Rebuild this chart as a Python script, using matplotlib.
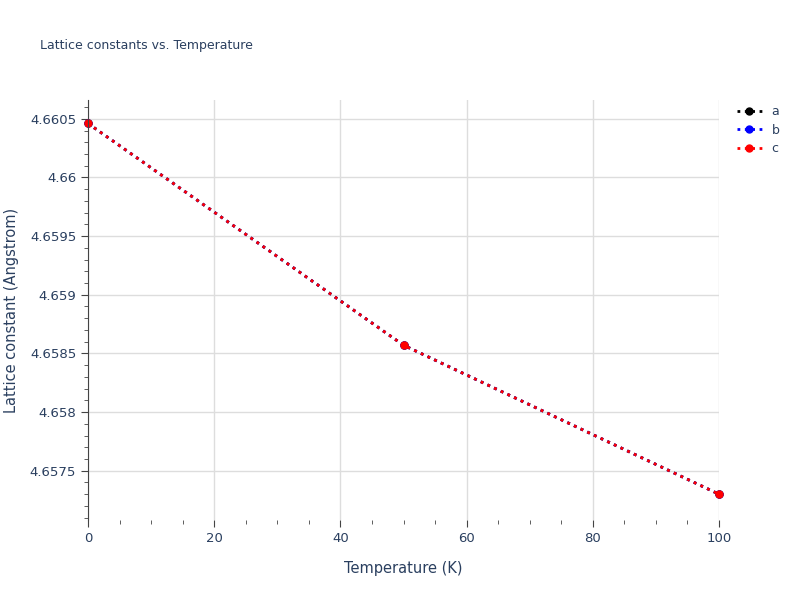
import matplotlib
matplotlib.use("Agg")
import matplotlib.pyplot as plt
from matplotlib.ticker import MultipleLocator, FuncFormatter

temps = [0, 50, 100]
a = [4.66046, 4.65857, 4.65730]
b = [4.66046, 4.65857, 4.65730]
c = [4.66046, 4.65857, 4.65730]
series = [("a", a, "black"), ("b", b, "blue"), ("c", c, "red")]

fig = plt.figure(figsize=(8, 6), dpi=100)
ax = fig.add_axes([88 / 800, 1 - 520 / 600, (719 - 88) / 800, 420 / 600])
for name, vals, col in series:
    ax.plot(temps, vals, linestyle=":", linewidth=2, color=col, marker="o",
            markersize=5, label=name, clip_on=False)

ax.set_xlim(0, 100)
ax.set_ylim(4.65708, 4.66066)
ax.xaxis.set_major_locator(MultipleLocator(20))
ax.xaxis.set_minor_locator(MultipleLocator(5))
ax.yaxis.set_major_locator(MultipleLocator(0.0005))
ax.yaxis.set_minor_locator(MultipleLocator(0.0001))
ax.yaxis.set_major_formatter(FuncFormatter(lambda v, p: f"{v:.4f}".rstrip("0").rstrip(".")))
ax.grid(True, which="major", color="#dddddd", linewidth=1)
for s in ["top", "right"]:
    ax.spines[s].set_visible(False)
ax.spines["bottom"].set_visible(False)
ax.spines["left"].set_color("#444444")
tc = "#2a3f5f"
ax.tick_params(axis="both", which="major", colors="#444444", labelcolor=tc, labelsize=9.5, length=5)
ax.tick_params(axis="both", which="minor", colors="#444444", length=3)
ax.set_xlabel("Temperature (K)", color=tc, fontsize=10.5, labelpad=12)
ax.set_ylabel("Lattice constant (Angstrom)", color=tc, fontsize=10.5, labelpad=8)
fig.text(40 / 800, 1 - 46 / 600, "Lattice constants vs. Temperature", color=tc,
         fontsize=9, va="center")
leg = ax.legend(loc="upper left", bbox_to_anchor=(1.01, 1.015), frameon=False,
                fontsize=9, handlelength=2, labelspacing=0.45, labelcolor=tc)
fig.savefig("out.png", dpi=100)
